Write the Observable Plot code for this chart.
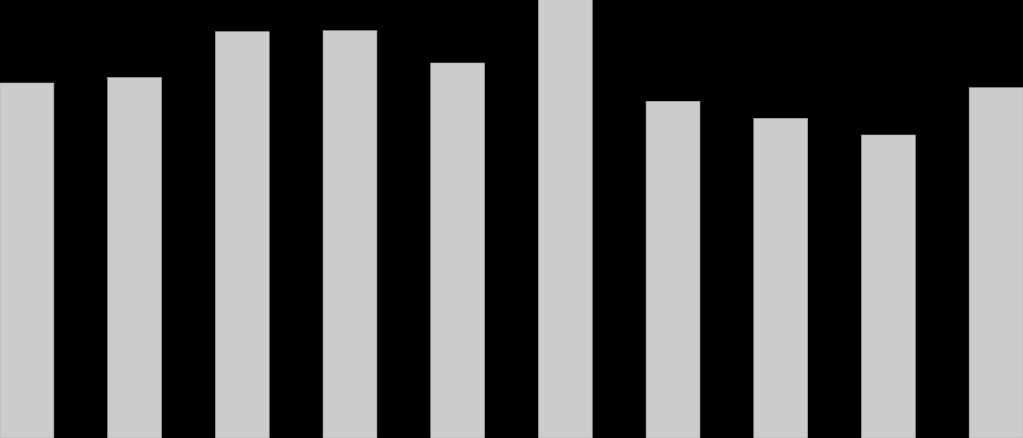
<!DOCTYPE html>
<html>
<head>
<meta charset="utf-8">
<script src="https://cdn.jsdelivr.net/npm/d3@7"></script>
<script src="https://cdn.jsdelivr.net/npm/@observablehq/plot@0.6"></script>
<style>
  html, body { margin: 0; padding: 0; background: #000; overflow: hidden; }
  #chart svg { display: block; background: #000; }
</style>
</head>
<body>
<div id="chart"></div>
<script>
const categories = ["1", "2", "3", "4", "5", "6", "7", "8", "9", "10"];
const values = [355, 360.5, 406.3, 407.3, 375, 442, 336.7, 319.7, 303, 350.3];
const yMax = 438;

const data = categories.map((c, i) => ({ category: c, value: values[i] }));

const chart = Plot.plot({
  width: 1023,
  height: 438,
  margin: 0,
  style: { background: "#000" },
  x: { type: "band", domain: categories, paddingInner: 0.5, paddingOuter: 0, round: false, axis: null },
  y: { domain: [0, yMax], axis: null },
  marks: [
    Plot.barY(data, {
      x: "category",
      y: "value",
      fill: "#cccccc",
      stroke: "#a8a8a8",
      strokeWidth: 0.6,
      clip: true
    })
  ]
});
document.getElementById("chart").appendChild(chart);
</script>
</body>
</html>
